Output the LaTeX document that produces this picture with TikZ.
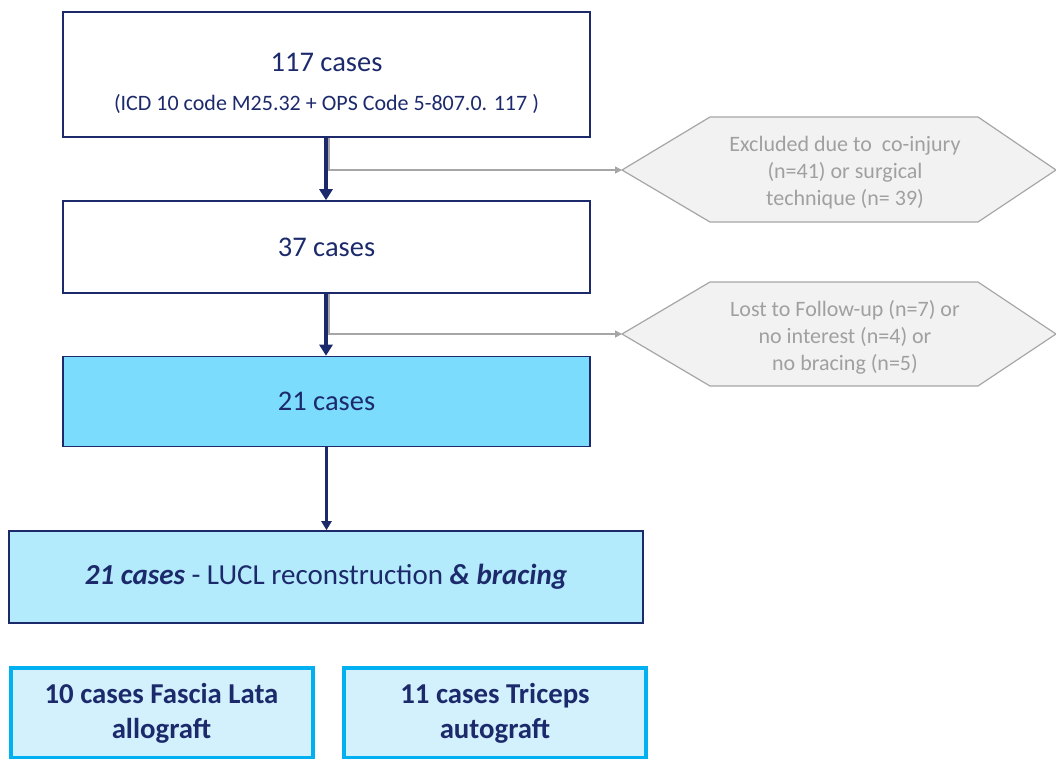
\documentclass[tikz,border=0pt]{standalone}
\usepackage{fontspec}
\setmainfont{Carlito}
\usetikzlibrary{arrows.meta}
\definecolor{navy}{HTML}{1C2A6C}
\definecolor{cyanA}{HTML}{7BDCFD}
\definecolor{cyanB}{HTML}{B3EBFC}
\definecolor{cyanC}{HTML}{D2F1FC}
\definecolor{cyanEdge}{HTML}{00B0F0}
\definecolor{hexfill}{HTML}{F2F2F2}
\definecolor{hexedge}{HTML}{A6A6A6}
\definecolor{hextext}{HTML}{A0A0A0}
\tikzset{
  box/.style={draw=navy, line width=1.6pt, minimum width=527pt, inner sep=0pt, text=navy, font=\fontsize{28.5}{34}\selectfont},
  gbox/.style={draw=cyanEdge, fill=cyanC, line width=4pt, minimum width=302pt, minimum height=90pt, inner sep=0pt, text=navy, align=center, font=\fontsize{28.8}{35}\selectfont\bfseries},
  hexshape/.style={draw=hexedge, fill=hexfill, line width=1.2pt},
  hextxt/.style={text=hextext, align=center, font=\fontsize{22}{27}\selectfont},
  mainarrow/.style={draw=navy, line width=3.5pt, -{Triangle[length=11pt,width=13pt]}},
  thinarrow/.style={draw=navy, line width=2.4pt, -{Triangle[length=9pt,width=10pt]}},
  grayarrow/.style={draw=hexedge, line width=1.6pt, -{Triangle[length=7pt,width=7pt]}}
}
\begin{document}
\begin{tikzpicture}[x=1pt,y=-1pt]
\useasboundingbox (0,0) rectangle (1056,758);
\begin{scope}
\clip (0,0) rectangle (1056,758);
% main boxes
\node[box, minimum height=125pt] (b1) at (326.5,74.5) {};
\node[text=navy, font=\fontsize{28.5}{34}\selectfont] (t1) at (326.5,62) {117 cases};
\node[text=navy, font=\fontsize{22}{26}\selectfont] (t1b) at (326.5,104) {(ICD 10 code M25.32 + OPS Code 5-807.0. 117 )};
\node[box, minimum height=92pt] (b2) at (326.5,247) {37 cases};
\node[box, fill=cyanA, minimum height=90pt] (b3) at (326.5,401.5) {21 cases};
\node[box, fill=cyanB, minimum width=634pt, minimum height=92pt, font=\fontsize{29}{34}\selectfont] (b4) at (326,577) {{\bfseries\itshape 21 cases} - LUCL reconstruction {\bfseries\itshape \& bracing}};
\node[gbox] (b5) at (161.5,713) {10 cases Fascia Lata\\allograft};
\node[gbox] (b6) at (495,713) {11 cases Triceps\\autograft};
% hexagons
\draw[hexshape] (622,170) -- (710,117) -- (978,117) -- (1056,170) -- (978,222) -- (710,222) -- cycle;
\coordinate (h1tip) at (622,170);
\node[hextxt] (h1) at (845,173) {Excluded due to\ \ co-injury\\(n=41) or surgical\\technique (n= 39)};
\draw[hexshape] (622,334) -- (710,282) -- (978,282) -- (1056,334) -- (978,386) -- (710,386) -- cycle;
\coordinate (h2tip) at (622,334);
\node[hextxt] (h2) at (845,337) {Lost to Follow-up (n=7) or\\no interest (n=4) or\\no bracing (n=5)};
% connectors
\draw[grayarrow] ([xshift=2.5pt]b1.south) |- (h1tip);
\draw[grayarrow] ([xshift=2.5pt]b2.south) |- (h2tip);
\draw[mainarrow] ([xshift=-0.5pt]b1.south) -- ([xshift=-0.5pt]b2.north);
\draw[mainarrow] ([xshift=-0.5pt]b2.south) -- ([xshift=-0.5pt]b3.north);
\draw[thinarrow] (b3.south) -- (b3.south |- b4.north);
\end{scope}
\end{tikzpicture}
\end{document}
